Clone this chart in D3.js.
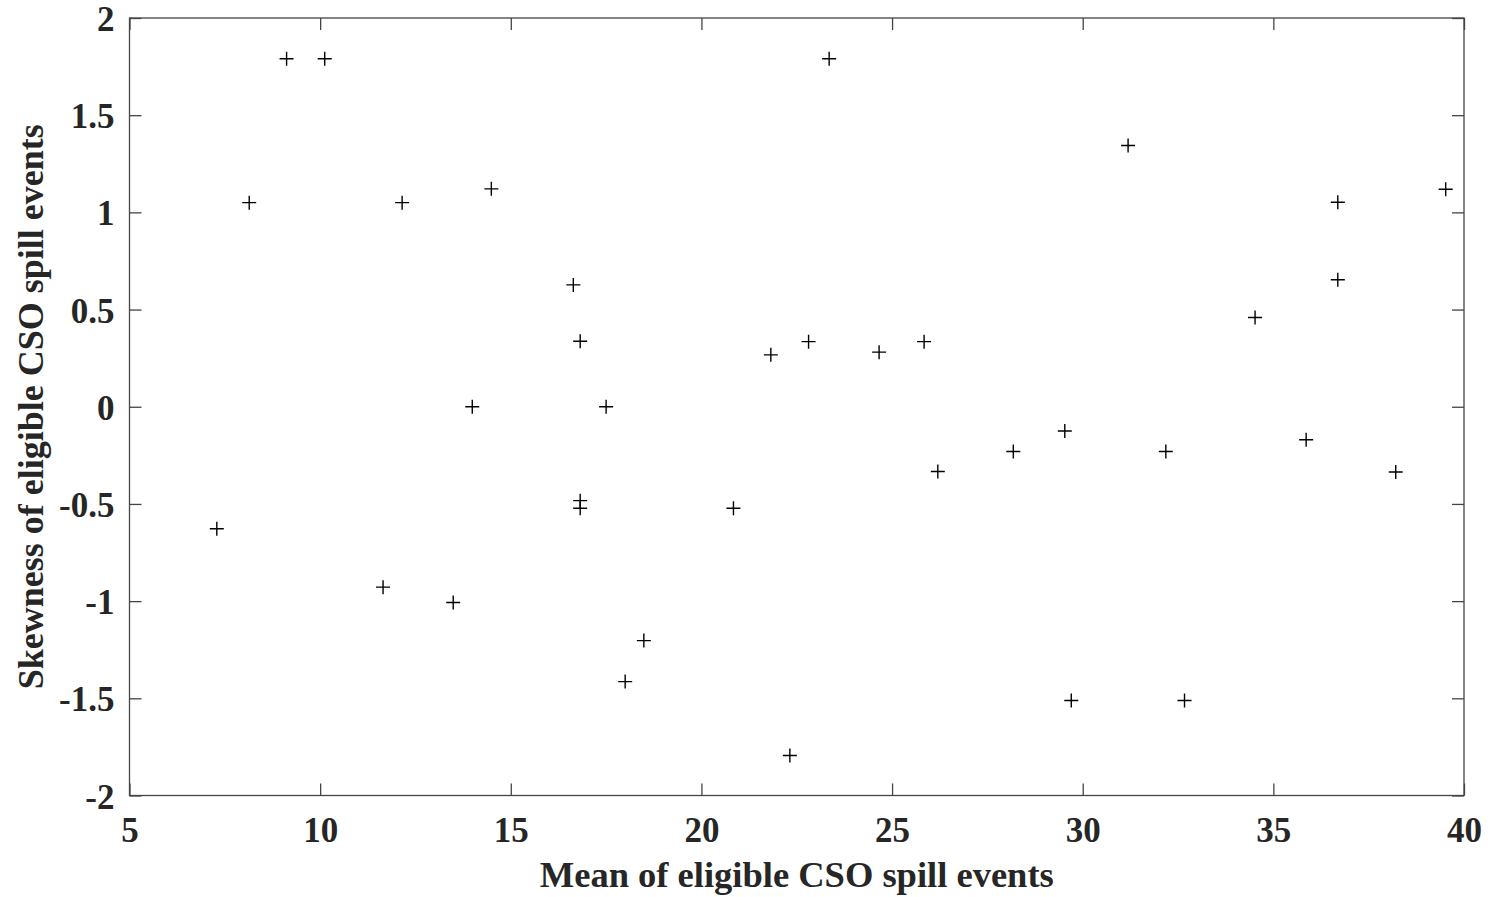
<!DOCTYPE html>
<html>
<head>
<meta charset="utf-8">
<script src="https://cdn.jsdelivr.net/npm/d3@7"></script>
<style>
  html, body { margin: 0; padding: 0; background: #fff; }
  svg { display: block; }
  text { font-family: "Liberation Serif", "Times New Roman", serif; font-weight: bold; fill: #262626; }
</style>
</head>
<body>
<svg id="chart" width="1493" height="897"></svg>
<script>
const meanValues = [7.29, 8.14, 9.12, 10.12, 11.65, 12.15, 13.49, 13.99, 14.49, 16.64,
  16.82, 16.82, 16.82, 17.50, 18.00, 18.49, 20.84, 21.82, 22.32, 22.81,
  23.35, 24.66, 25.84, 26.20, 28.18, 29.53, 29.70, 31.19, 32.18, 32.67,
  34.52, 35.86, 36.69, 36.69, 38.21, 39.52];
const skewValues = [-0.628, 1.050, 1.790, 1.790, -0.928, 1.050, -1.007, 0.000, 1.121, 0.627,
  0.337, -0.483, -0.522, 0.000, -1.414, -1.203, -0.522, 0.267, -1.794, 0.335,
  1.790, 0.281, 0.335, -0.333, -0.230, -0.125, -1.511, 1.344, -0.230, -1.511,
  0.459, -0.170, 1.052, 0.653, -0.336, 1.119];
const xTicks = [5, 10, 15, 20, 25, 30, 35, 40];
const yTicks = [-2, -1.5, -1, -0.5, 0, 0.5, 1, 1.5, 2];
const xLabel = "Mean of eligible CSO spill events";
const yLabel = "Skewness of eligible CSO spill events";

const svg = d3.select("#chart");
const pLeft = 129.5, pRight = 1464, pTop = 18, pBottom = 795.5;
const x = d3.scaleLinear().domain([5, 40]).range([pLeft, pRight]);
const y = d3.scaleLinear().domain([-2, 2]).range([pBottom, pTop]);
const axisColor = "#444";
const tickLen = 12;
const fmt = d => String(d);

// frame
svg.append("rect")
  .attr("x", pLeft).attr("y", pTop)
  .attr("width", pRight - pLeft).attr("height", pBottom - pTop)
  .attr("fill", "none").attr("stroke", axisColor).attr("stroke-width", 1.3);

// axes with inward ticks
const gx = svg.append("g").attr("transform", `translate(0,${pBottom})`)
  .call(d3.axisBottom(x).tickValues(xTicks).tickFormat(fmt).tickSizeInner(-tickLen).tickSizeOuter(0).tickPadding(22));
const gxt = svg.append("g").attr("transform", `translate(0,${pTop})`)
  .call(d3.axisTop(x).tickValues(xTicks).tickFormat("").tickSizeInner(-tickLen).tickSizeOuter(0));
const gy = svg.append("g").attr("transform", `translate(${pLeft},0)`)
  .call(d3.axisLeft(y).tickValues(yTicks).tickFormat(fmt).tickSizeInner(-tickLen).tickSizeOuter(0).tickPadding(15));
const gyr = svg.append("g").attr("transform", `translate(${pRight},0)`)
  .call(d3.axisRight(y).tickValues(yTicks).tickFormat("").tickSizeInner(-tickLen).tickSizeOuter(0));

[gx, gxt, gy, gyr].forEach(g => {
  g.select(".domain").remove();
  g.selectAll(".tick line").attr("stroke", axisColor).attr("stroke-width", 1.3);
  g.selectAll(".tick text").attr("font-family", null).attr("font-size", 35).attr("fill", "#262626");
});
gx.selectAll(".tick text").attr("dy", "0.71em");
gy.selectAll(".tick text").attr("dy", "0.36em");

// plus markers
const pts = meanValues.map((m, i) => [m, skewValues[i]]);
const half = 7;
svg.append("g").selectAll("path").data(pts).join("path")
  .attr("d", d => {
    const cx = x(d[0]), cy = y(d[1]);
    return `M${cx - half},${cy}H${cx + half}M${cx},${cy - half}V${cy + half}`;
  })
  .attr("stroke", "#000").attr("stroke-width", 1.4).attr("fill", "none");

// axis titles
svg.append("text")
  .attr("x", (pLeft + pRight) / 2).attr("y", 887)
  .attr("text-anchor", "middle").attr("font-size", 36.5)
  .text(xLabel);
svg.append("text")
  .attr("transform", `translate(43,${(pTop + pBottom) / 2}) rotate(-90)`)
  .attr("text-anchor", "middle").attr("font-size", 36)
  .text(yLabel);
</script>
</body>
</html>
